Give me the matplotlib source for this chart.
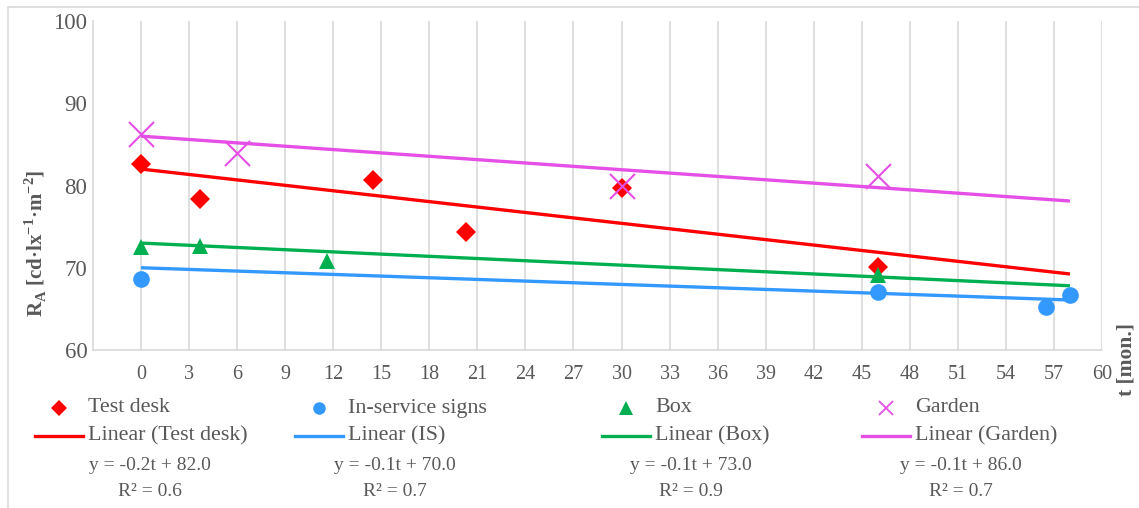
import matplotlib
matplotlib.use("Agg")
import matplotlib.pyplot as plt
from matplotlib.lines import Line2D
from matplotlib.patches import Rectangle
import numpy as np

plt.rcParams['font.family'] = ['Liberation Serif', 'DejaVu Serif']
plt.rcParams['mathtext.fontset'] = 'custom'
plt.rcParams['mathtext.rm'] = 'Liberation Serif'
plt.rcParams['mathtext.bf'] = 'Liberation Serif:bold'

# ---- data ----
desk_t = [0, 3.7, 14.5, 20.3, 30, 46]
desk_y = [82.6, 78.4, 80.7, 74.4, 79.7, 70.1]
is_t = [0, 46, 56.5, 58]
is_y = [68.6, 67.1, 65.2, 66.7]
box_t = [0, 3.7, 11.6, 46]
box_y = [72.5, 72.7, 70.8, 69.1]
garden_t = [0, 6, 30, 46]
garden_y = [86.3, 83.9, 80.0, 81.1]

trend_names = ['Linear (Test desk)', 'Linear (IS)', 'Linear (Box)', 'Linear (Garden)']
trend_slope = [-0.22, -0.0676, -0.0895, -0.136]
trend_icept = [82.0, 70.0, 73.0, 86.0]
trend_t_range = [0, 58]

series_names = ['Test desk', 'In-service signs', 'Box', 'Garden']
equations = ['y = -0.2t + 82.0', 'y = -0.1t + 70.0', 'y = -0.1t + 73.0', 'y = -0.1t + 86.0']
r2_labels = ['R² = 0.6', 'R² = 0.7', 'R² = 0.9', 'R² = 0.7']

x_ticks = list(range(0, 61, 3))
y_ticks = [60, 70, 80, 90, 100]

# ---- style ----
colors = ['#FF0000', '#3399FF', '#00B050', '#E64FE6']
markers = ['D', 'o', '^', 'x']
msizes = [10, 12, 11, 18]
leg_msizes = [8.5, 9, 9.5, 10]
grey = '#595959'
gridc = '#D9D9D9'

W, H = 1139, 508
fig = plt.figure(figsize=(W / 100, H / 100), dpi=100)

def fx(x):
    return x / W

def fy(y):
    return 1 - y / H

# outer chart border
fig.add_artist(Rectangle((fx(8), fy(520)), fx(1200) - fx(8), fy(7) - fy(520),
                         transform=fig.transFigure, fill=False,
                         edgecolor='#D9D9D9', lw=1.2))

ax = fig.add_axes([fx(93), fy(350), fx(1102) - fx(93), fy(21) - fy(350)])
ax.set_xlim(-3, 60)
ax.set_ylim(60, 100)

for s in ['top', 'right']:
    ax.spines[s].set_visible(False)
for s in ['left', 'bottom']:
    ax.spines[s].set_color(gridc)
    ax.spines[s].set_linewidth(1.2)

ax.set_xticks(x_ticks)
ax.set_yticks(y_ticks)
ax.tick_params(axis='both', length=0, colors=grey)
ax.tick_params(axis='x', labelsize=14.5, pad=11)
ax.tick_params(axis='y', labelsize=16.5, pad=4)
ax.xaxis.grid(True, color=gridc, lw=1.2)
ax.yaxis.grid(False)
ax.set_axisbelow(True)

# trend lines
tt = np.array(trend_t_range, dtype=float)
for i in range(4):
    ax.plot(tt, trend_icept[i] + trend_slope[i] * tt, color=colors[i], lw=2.4,
            solid_capstyle='butt', zorder=2)

# scatter points
pts = [(desk_t, desk_y), (is_t, is_y), (box_t, box_y), (garden_t, garden_y)]
for i, (t, y) in enumerate(pts):
    kw = dict(linestyle='none', marker=markers[i], markersize=msizes[i],
              color=colors[i], zorder=3, clip_on=False)
    kw['markeredgewidth'] = 1.5 if markers[i] == 'x' else 0
    ax.plot(t, y, **kw)

# axis labels
fig.text(fx(36), fy(243),
         r'R$_{\mathregular{A}}$ [cd·lx$^{\mathregular{-1}}$·m$^{\mathregular{-2}}$]',
         rotation=90, ha='center', va='center', fontsize=15,
         fontweight='bold', color=grey)
fig.text(fx(1127), fy(360), 't [mon.]', rotation=90, ha='center', va='center',
         fontsize=15.5, fontweight='bold', color=grey)

# manual legend
col_x = [35, 295, 602, 862]
eq_cx = [150, 395, 691, 961]
for i in range(4):
    x0 = col_x[i]
    mk = dict(marker=markers[i], markersize=leg_msizes[i], color=colors[i],
              linestyle='none', transform=fig.transFigure)
    mk['markeredgewidth'] = 1.3 if markers[i] == 'x' else 0
    fig.add_artist(Line2D([fx(x0 + 24)], [fy(408)], **mk))
    fig.text(fx(x0 + 53), fy(408), series_names[i], ha='left', va='center',
             fontsize=15.8, color=grey)
    fig.add_artist(Line2D([fx(x0), fx(x0 + 48)], [fy(436), fy(436)],
                          color=colors[i], lw=2.4, transform=fig.transFigure))
    fig.text(fx(x0 + 53), fy(436), trend_names[i], ha='left', va='center',
             fontsize=15.8, color=grey)
    fig.text(fx(eq_cx[i]), fy(466), equations[i], ha='center', va='center',
             fontsize=14, color=grey)
    fig.text(fx(eq_cx[i]), fy(492), r2_labels[i], ha='center', va='center',
             fontsize=14, color=grey)

fig.savefig('out.png', dpi=100)
